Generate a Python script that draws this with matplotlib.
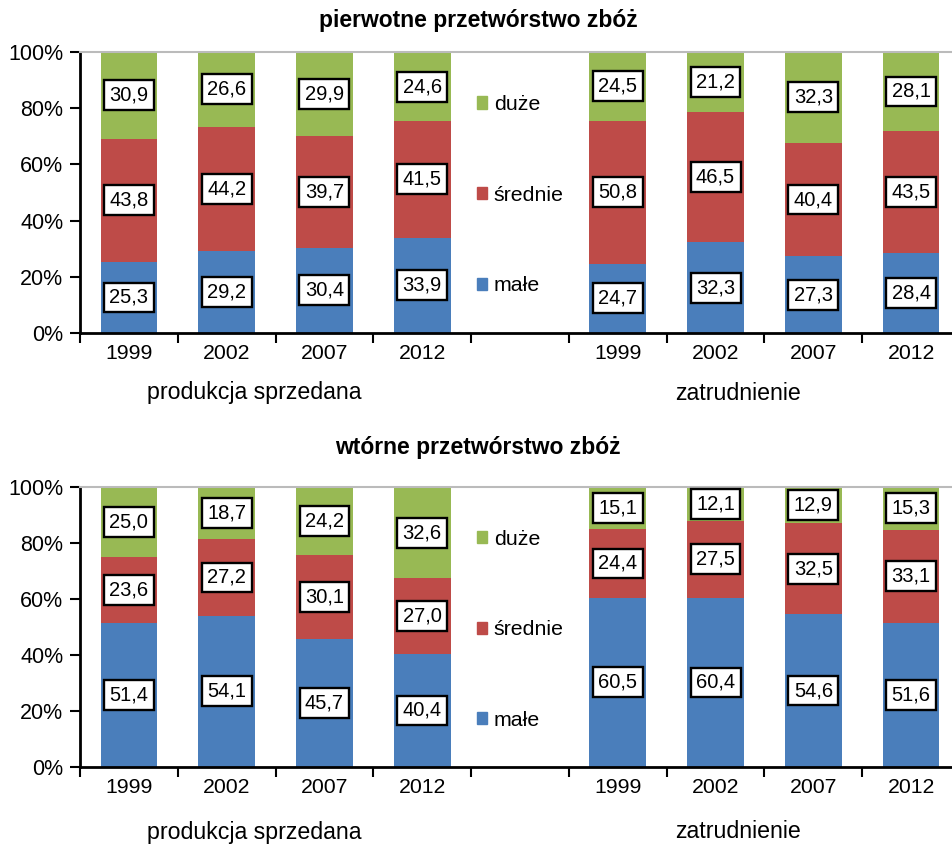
import matplotlib.pyplot as plt
from matplotlib.patches import Patch

plt.rcParams['font.family'] = ['Liberation Sans', 'DejaVu Sans']

years = ["1999", "2002", "2007", "2012"]
series = ["małe", "średnie", "duże"]
colors = ["#4A7EBB", "#BE4B48", "#98B954"]

# pierwotne przetwórstwo zbóż
top_prod = [[25.3, 29.2, 30.4, 33.9], [43.8, 44.2, 39.7, 41.5], [30.9, 26.6, 29.9, 24.6]]
top_empl = [[24.7, 32.3, 27.3, 28.4], [50.8, 46.5, 40.4, 43.5], [24.5, 21.2, 32.3, 28.1]]
# wtórne przetwórstwo zbóż
bot_prod = [[51.4, 54.1, 45.7, 40.4], [23.6, 27.2, 30.1, 27.0], [25.0, 18.7, 24.2, 32.6]]
bot_empl = [[60.5, 60.4, 54.6, 51.6], [24.4, 27.5, 32.5, 33.1], [15.1, 12.1, 12.9, 15.3]]

titles = ["pierwotne przetwórstwo zbóż", "wtórne przetwórstwo zbóż"]
group_labels = ["produkcja sprzedana", "zatrudnienie"]

fig = plt.figure(figsize=(9.53, 8.44), dpi=100)

W = 960 / 953 - 80 / 953


def draw_panel(ax, prod, empl, title, title_off, group_y):
    groups = [(prod, 0), (empl, 5)]
    for data, off in groups:
        bottoms = [0, 0, 0, 0]
        for s, vals in enumerate(data):
            xs = [off + i + 0.5 for i in range(4)]
            ax.bar(xs, vals, width=0.58, bottom=bottoms, color=colors[s],
                   edgecolor='none', zorder=2)
            for x, b, v in zip(xs, bottoms, vals):
                ax.text(x, b + v / 2, f"{v:.1f}".replace('.', ','),
                        ha='center', va='center', fontsize=14.5,
                        bbox=dict(boxstyle='square,pad=0.27', fc='white',
                                  ec='black', lw=1.7), zorder=3)
            bottoms = [b + v for b, v in zip(bottoms, vals)]

    ax.set_xlim(0, 9)
    ax.set_ylim(0, 100)
    ax.set_yticks([0, 20, 40, 60, 80, 100])
    ax.set_yticklabels([f"{t}%" for t in range(0, 101, 20)], fontsize=15.5)
    ax.set_xticks(range(10))
    ax.set_xticklabels([])
    ax.set_xticks([0.5, 1.5, 2.5, 3.5, 5.5, 6.5, 7.5, 8.5], minor=True)
    ax.set_xticklabels(years + years, minor=True, fontsize=15.3)
    ax.tick_params(axis='x', which='minor', length=0, pad=8)
    ax.tick_params(axis='x', which='major', length=7, width=1.5, direction='out')
    ax.tick_params(axis='y', length=7, width=1.5, direction='out', pad=5)
    for sp in ['left', 'bottom']:
        ax.spines[sp].set_linewidth(2)
    ax.spines['right'].set_visible(False)
    ax.spines['top'].set_color('#BBBBBB')
    ax.spines['top'].set_linewidth(1.5)
    ax.text(4.07, 1 + title_off, title, transform=ax.get_xaxis_transform(),
            ha='center', va='center', fontsize=16.5, fontweight='bold')

    handles = [Patch(color=colors[i], label=series[i]) for i in (2, 1, 0)]
    ax.legend(handles=handles, loc='center left', bbox_to_anchor=(3.97 / 9, 0.49),
              frameon=False, fontsize=15.4, labelspacing=3.35, handlelength=0.5,
              handleheight=0.5, handletextpad=0.3, borderaxespad=0)

    ax.text(1.78, group_y, group_labels[0], transform=ax.get_xaxis_transform(),
            ha='center', va='center', fontsize=16.7)
    ax.text(6.73, group_y, group_labels[1], transform=ax.get_xaxis_transform(),
            ha='center', va='center', fontsize=16.7)


ax1 = fig.add_axes([80 / 953, (844 - 333) / 844, W, 281 / 844])
draw_panel(ax1, top_prod, top_empl, titles[0], 31 / 281, -60 / 281)
ax2 = fig.add_axes([80 / 953, (844 - 767) / 844, W, 280 / 844])
draw_panel(ax2, bot_prod, bot_empl, titles[1], 40 / 280, -65 / 280)

fig.savefig('out.png', dpi=100)
